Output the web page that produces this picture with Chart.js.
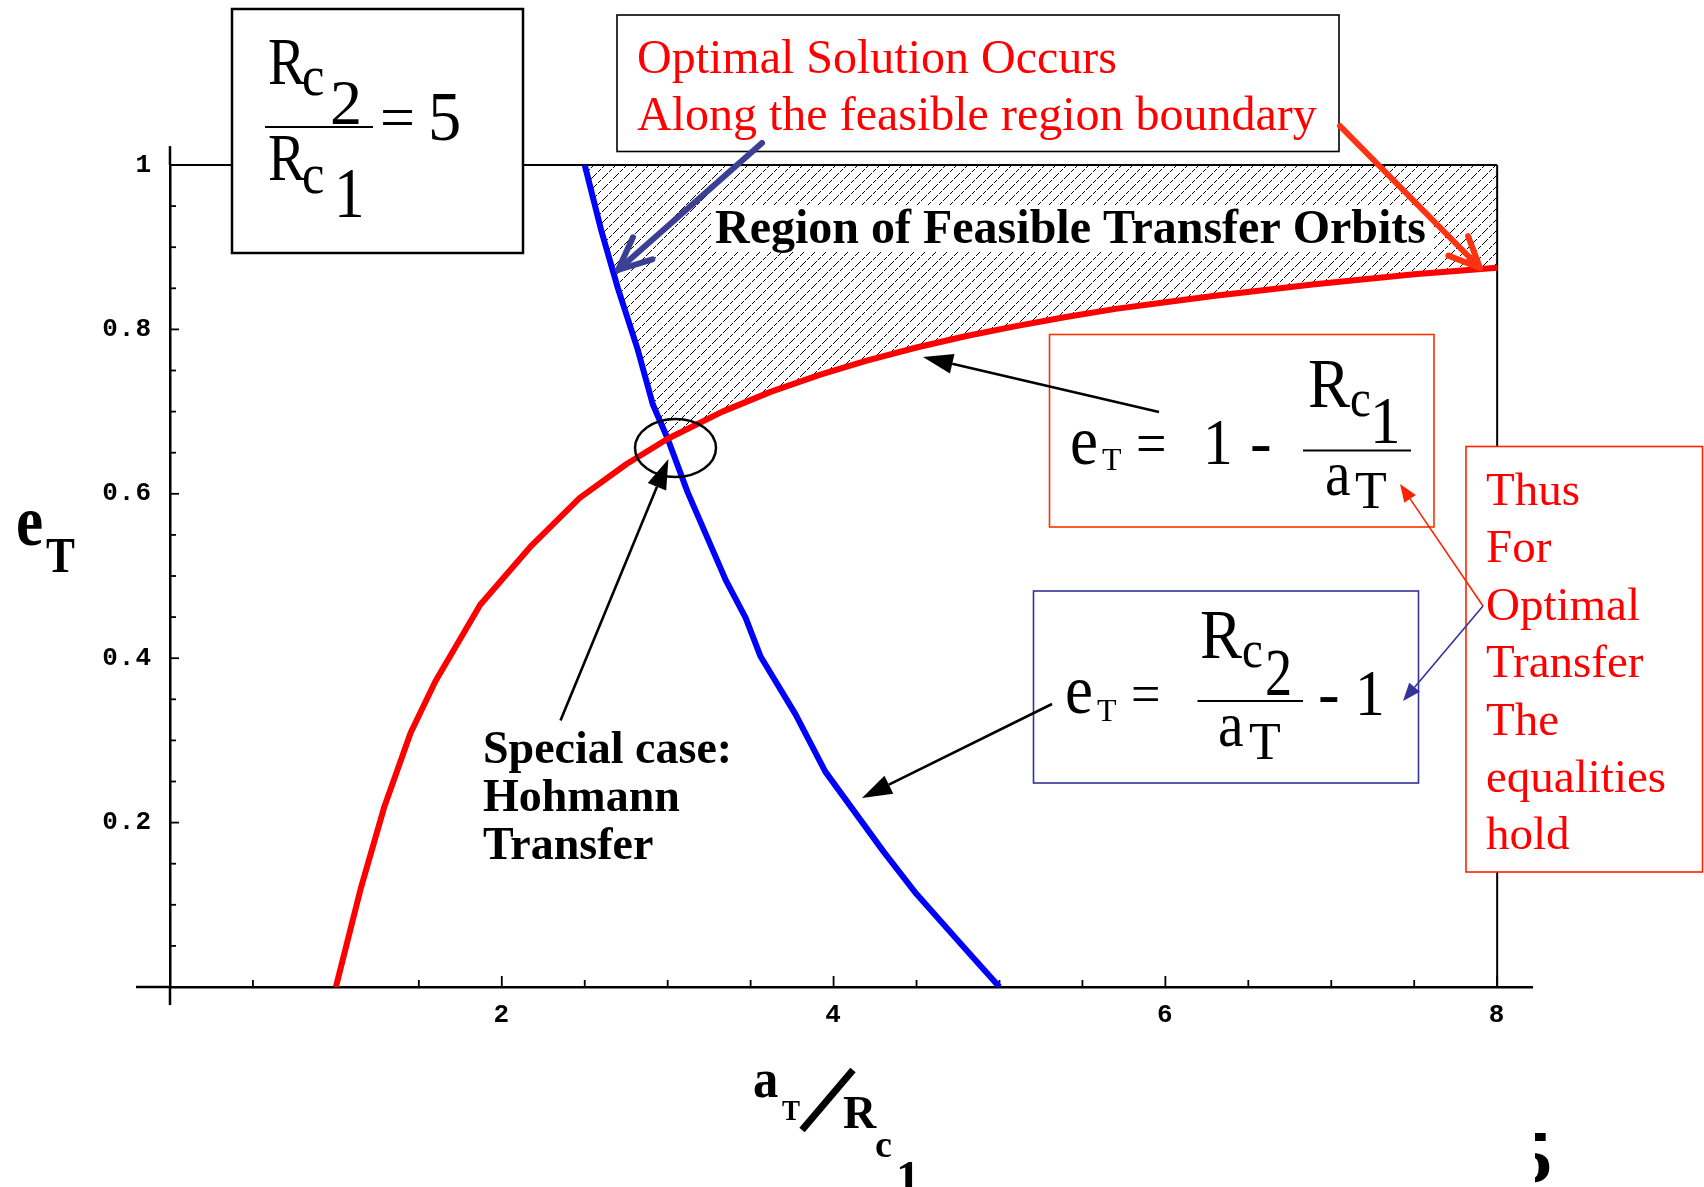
<!DOCTYPE html>
<html>
<head>
<meta charset="utf-8">
<title>Region of feasible transfer orbits</title>
<script src="https://cdn.jsdelivr.net/npm/chart.js"></script>
<style>
  html, body { margin: 0; padding: 0; background: #fff; }
  canvas { display: block; }
</style>
</head>
<body>
<canvas id="orbitChart" width="1704" height="1187"></canvas>
<script>
// e_T = 1 - Rc1/aT  (red curve)
const redA = [1.0, 1.15, 1.29, 1.45, 1.6, 1.87, 2.17, 2.47, 2.75, 3.0, 3.33, 3.62, 3.92, 4.2, 4.5, 4.8, 5.1, 5.4, 5.7, 6.0, 6.3, 6.6, 6.9, 7.2, 7.5, 7.75, 8.0];
const redE = [0.0, 0.12, 0.218, 0.309, 0.372, 0.465, 0.535, 0.595, 0.636, 0.667, 0.70, 0.724, 0.745, 0.762, 0.778, 0.792, 0.804, 0.815, 0.825, 0.833, 0.841, 0.848, 0.855, 0.861, 0.867, 0.871, 0.875];

// e_T = Rc2/aT - 1  (blue curve)
const blueA = [2.5, 2.6, 2.7, 2.82, 2.91, 3.0, 3.12, 3.35, 3.47, 3.56, 3.77, 3.95, 4.3, 4.5, 4.8, 5.0];
const blueE = [1.0, 0.92, 0.85, 0.775, 0.709, 0.667, 0.602, 0.495, 0.449, 0.402, 0.332, 0.262, 0.165, 0.113, 0.045, 0.0];

const xTickValues = [2, 4, 6, 8];
const xTickLabels = ['2', '4', '6', '8'];
const yTickValues = [0.2, 0.4, 0.6, 0.8, 1];
const yTickLabels = ['0.2', '0.4', '0.6', '0.8', '1'];

const crossA = 3.0; // where the two curves meet (Hohmann)

const toPoints = (xs, ys) => xs.map((x, i) => ({ x: x, y: ys[i] }));
const redPts = toPoints(redA, redE);
const bluePts = toPoints(blueA, blueE);
// lower edge of the feasible region: blue down to the crossing, then red
const edgePts = bluePts.filter(p => p.x <= crossA).concat(redPts.filter(p => p.x > crossA));

function labelFor(values, labels, v) {
  const i = values.findIndex(t => Math.abs(t - v) < 1e-6);
  return i < 0 ? '' : labels[i];
}

const canvas = document.getElementById('orbitChart');

// crisp one-pixel broken diagonals, like the old bitmap fill
function makeHatch() {
  const n = 11;
  const tile = document.createElement('canvas');
  tile.width = n;
  tile.height = n;
  const g = tile.getContext('2d');
  g.fillStyle = '#000';
  for (let i = 0; i < n; i++) {
    if (i % 4 === 3) continue;
    g.fillRect(i, n - 1 - i, 1, 1);
  }
  return canvas.getContext('2d').createPattern(tile, 'repeat');
}

// ---- drawing helpers for the annotations ----
function text(ctx, s, x, y, font, color, hs) {
  ctx.save();
  ctx.font = font;
  ctx.fillStyle = color || '#000';
  ctx.textAlign = 'left';
  ctx.textBaseline = 'alphabetic';
  ctx.translate(x, y);
  ctx.scale(hs || 1, 1);
  ctx.fillText(s, 0, 0);
  ctx.restore();
}

function seg(ctx, x1, y1, x2, y2) {
  ctx.beginPath();
  ctx.moveTo(x1, y1);
  ctx.lineTo(x2, y2);
  ctx.stroke();
}

function box(ctx, x, y, w, h, color, lw, fill) {
  ctx.save();
  if (fill) {
    ctx.fillStyle = fill;
    ctx.fillRect(x, y, w, h);
  }
  ctx.strokeStyle = color;
  ctx.lineWidth = lw;
  ctx.strokeRect(x, y, w, h);
  ctx.restore();
}

// arrow with a solid triangular head
function solidArrow(ctx, x1, y1, x2, y2, color, lw, len, half) {
  const a = Math.atan2(y2 - y1, x2 - x1);
  const bx = x2 - len * Math.cos(a), by = y2 - len * Math.sin(a);
  ctx.save();
  ctx.strokeStyle = color;
  ctx.fillStyle = color;
  ctx.lineWidth = lw;
  seg(ctx, x1, y1, bx, by);
  ctx.beginPath();
  ctx.moveTo(x2, y2);
  ctx.lineTo(bx + half * Math.sin(a), by - half * Math.cos(a));
  ctx.lineTo(bx - half * Math.sin(a), by + half * Math.cos(a));
  ctx.closePath();
  ctx.fill();
  ctx.restore();
}

// thick arrow with an open "V" head
function openArrow(ctx, x1, y1, x2, y2, color, lw, len, spread) {
  const back = Math.atan2(y1 - y2, x1 - x2);
  ctx.save();
  ctx.strokeStyle = color;
  ctx.lineWidth = lw;
  ctx.lineCap = 'round';
  ctx.lineJoin = 'round';
  seg(ctx, x1, y1, x2, y2);
  ctx.beginPath();
  ctx.moveTo(x2 + len * Math.cos(back + spread), y2 + len * Math.sin(back + spread));
  ctx.lineTo(x2, y2);
  ctx.lineTo(x2 + len * Math.cos(back - spread), y2 + len * Math.sin(back - spread));
  ctx.stroke();
  ctx.restore();
}

const SERIF = '"Liberation Serif", "Times New Roman", serif';
const serif = (px, bold) => (bold ? 'bold ' : '') + px + 'px ' + SERIF;

// ---- axis decoration: inward ticks, axis stubs, frame ----
const axisDecor = {
  id: 'axisDecor',
  beforeDraw(chart) {
    chart.ctx.letterSpacing = '1px';
  },
  beforeDatasetsDraw(chart) {
    const { ctx, scales: { x, y } } = chart;
    ctx.letterSpacing = '0px';
    const x0 = x.getPixelForValue(0), x8 = x.getPixelForValue(8);
    const y0 = y.getPixelForValue(0), y1 = y.getPixelForValue(1);
    ctx.save();
    ctx.strokeStyle = '#000';
    ctx.lineWidth = 2.5;
    seg(ctx, x.getPixelForValue(-0.205), y0, x0, y0);
    seg(ctx, x0, y.getPixelForValue(-0.022), x0, y0);
    seg(ctx, x0, y1, x0, y.getPixelForValue(1.023));
    ctx.lineWidth = 2;
    seg(ctx, x0, y1, x8, y1);
    seg(ctx, x8, y1, x8, y0);
    ctx.lineWidth = 1.8;
    x.ticks.forEach(t => {
      if (t.value <= 0) return;
      const px = x.getPixelForValue(t.value);
      const len = labelFor(xTickValues, xTickLabels, t.value) ? 11 : 7;
      seg(ctx, px, y0, px, y0 - len);
    });
    y.ticks.forEach(t => {
      if (t.value <= 0) return;
      const py = y.getPixelForValue(t.value);
      const len = labelFor(yTickValues, yTickLabels, t.value) ? 9 : 6;
      seg(ctx, x0, py, x0 + len, py);
    });
    ctx.restore();
  }
};

// ---- slide annotations ----
const notes = {
  id: 'notes',
  afterDraw(chart) {
    const ctx = chart.ctx;
    ctx.save();

    // label inside the hatched region
    ctx.fillStyle = '#fff';
    ctx.fillRect(711, 206, 722, 46);
    text(ctx, 'Region of Feasible Transfer Orbits', 715, 243, serif(48, true), '#000');

    // Rc2 / Rc1 = 5
    box(ctx, 232, 9, 291, 244, '#000', 2.5, '#fff');
    text(ctx, 'R', 268, 84, serif(68), '#000', 0.82);
    text(ctx, 'c', 302, 95, serif(56), '#000', 0.9);
    text(ctx, '2', 330, 124, serif(64), '#000');
    ctx.strokeStyle = '#000';
    ctx.lineWidth = 2;
    seg(ctx, 265, 127, 373, 127);
    text(ctx, '=', 380, 138, serif(62), '#000');
    text(ctx, '5', 428, 140, serif(70), '#000', 0.95);
    text(ctx, 'R', 268, 180, serif(68), '#000', 0.82);
    text(ctx, 'c', 302, 193, serif(56), '#000', 0.9);
    text(ctx, '1', 334, 217, serif(72), '#000', 0.85);

    // "Optimal Solution Occurs" box
    box(ctx, 617, 15, 722, 136.5, '#000', 1.6, '#fff');
    text(ctx, 'Optimal Solution Occurs', 637, 73, serif(48), '#ff0000');
    text(ctx, 'Along the feasible region boundary', 637, 130, serif(48), '#ff0000');

    // e_T = 1 - Rc1/aT
    box(ctx, 1049.5, 334.5, 384.5, 192.5, '#ff3300', 1.6);
    text(ctx, 'e', 1070, 464, serif(70), '#000', 0.9);
    text(ctx, 'T', 1102, 470, serif(32), '#000');
    text(ctx, '=', 1136, 463, serif(60), '#000', 0.9);
    text(ctx, '1', 1203, 464, serif(66), '#000', 0.9);
    text(ctx, '-', 1250, 464, serif(65), '#000');
    text(ctx, 'R', 1308, 407, serif(70), '#000', 0.9);
    text(ctx, 'c', 1350, 416, serif(52), '#000', 0.9);
    text(ctx, '1', 1370, 443, serif(68), '#000', 0.9);
    ctx.strokeStyle = '#000';
    ctx.lineWidth = 2;
    seg(ctx, 1303, 450.5, 1411, 450.5);
    text(ctx, 'a', 1325, 495, serif(64), '#000', 0.9);
    text(ctx, 'T', 1355, 508, serif(52), '#000');

    // e_T = Rc2/aT - 1
    box(ctx, 1033.5, 591, 385, 192, '#333399', 1.6);
    text(ctx, 'e', 1065, 713, serif(70), '#000', 0.9);
    text(ctx, 'T', 1097, 721, serif(32), '#000');
    text(ctx, '=', 1131, 713, serif(58), '#000', 0.9);
    text(ctx, 'R', 1200, 658, serif(70), '#000', 0.9);
    text(ctx, 'c', 1242, 667, serif(52), '#000', 0.9);
    text(ctx, '2', 1265, 695, serif(68), '#000', 0.8);
    ctx.strokeStyle = '#000';
    ctx.lineWidth = 2;
    seg(ctx, 1197.5, 701, 1303, 701);
    text(ctx, 'a', 1218, 746, serif(64), '#000', 0.9);
    text(ctx, 'T', 1249, 759, serif(52), '#000');
    text(ctx, '-', 1318, 715, serif(65), '#000');
    text(ctx, '1', 1355, 715, serif(66), '#000', 0.9);

    // "Thus ... hold" box
    box(ctx, 1466, 446.5, 236.5, 425.5, '#ff2200', 1.6, '#fff');
    ['Thus', 'For', 'Optimal', 'Transfer', 'The', 'equalities', 'hold'].forEach((w, i) => {
      text(ctx, w, 1486, 505 + i * 57.4, serif(47), '#ff0000');
    });

    // Hohmann note
    text(ctx, 'Special case:', 483, 763, serif(46, true), '#000');
    text(ctx, 'Hohmann', 483, 811, serif(46, true), '#000');
    text(ctx, 'Transfer', 483, 859, serif(46, true), '#000');

    // ellipse round the crossing
    ctx.strokeStyle = '#000';
    ctx.lineWidth = 2.5;
    ctx.beginPath();
    ctx.ellipse(675.5, 448, 40.5, 29, 0, 0, Math.PI * 2);
    ctx.stroke();

    // arrows
    solidArrow(ctx, 560.5, 720.5, 668.4, 459, '#000', 2.6, 30, 10);
    solidArrow(ctx, 1159, 412, 923, 357, '#000', 2.6, 30, 10);
    solidArrow(ctx, 1052, 704, 862, 798, '#000', 2.6, 30, 10);
    openArrow(ctx, 762, 143, 618, 270, '#3c4095', 6, 36, 0.42);
    openArrow(ctx, 1340, 126, 1480, 268, '#ff3311', 6, 34, 0.42);
    solidArrow(ctx, 1483, 606, 1400, 484, '#ff2200', 1.6, 18, 7);
    solidArrow(ctx, 1483, 606, 1403, 701, '#333399', 1.6, 18, 7);

    // axis titles
    text(ctx, 'e', 16, 545, serif(72, true), '#000', 0.85);
    text(ctx, 'T', 46, 572, serif(51, true), '#000', 0.85);

    text(ctx, 'a', 753, 1097, serif(55, true), '#000', 0.92);
    text(ctx, 'T', 782, 1120, serif(30, true), '#000', 0.9);
    ctx.strokeStyle = '#000';
    ctx.lineWidth = 7;
    seg(ctx, 802, 1130, 853, 1070);
    text(ctx, 'R', 843, 1128, serif(46, true), '#000');
    text(ctx, 'c', 875, 1157, serif(38, true), '#000');
    text(ctx, '1', 896, 1194, serif(48, true), '#000');

    // clipped slide number at the lower right
    ctx.save();
    ctx.beginPath();
    ctx.rect(1535, 1100, 60, 87);
    ctx.clip();
    ctx.font = serif(74, true);
    ctx.fillStyle = '#000';
    ctx.textAlign = 'right';
    ctx.fillText('5', 1552, 1182);
    ctx.restore();

    ctx.restore();
  }
};

const tickFont = { family: '"Liberation Mono", "Courier New", monospace', weight: 'bold', size: 26 };

new Chart(canvas, {
  type: 'line',
  data: {
    datasets: [
      {
        label: 'feasible region',
        data: edgePts,
        fill: 'end',
        backgroundColor: makeHatch(),
        borderWidth: 0,
        pointRadius: 0,
        order: 3
      },
      {
        label: 'e = 1 - Rc1/aT',
        data: redPts,
        borderColor: '#ff0000',
        borderWidth: 6,
        pointRadius: 0,
        fill: false,
        order: 1
      },
      {
        label: 'e = Rc2/aT - 1',
        data: bluePts,
        borderColor: '#0000ff',
        borderWidth: 6,
        pointRadius: 0,
        fill: false,
        order: 2
      }
    ]
  },
  options: {
    responsive: false,
    animation: false,
    devicePixelRatio: 1,
    layout: { padding: { top: 165, right: 172, left: 0, bottom: 0 } },
    elements: { line: { tension: 0, borderJoinStyle: 'round' } },
    plugins: {
      legend: { display: false },
      tooltip: { enabled: false }
    },
    scales: {
      x: {
        type: 'linear',
        position: 'bottom',
        min: 0,
        max: 8.21,
        afterFit: s => { s.height = 200; },
        grid: { display: true, drawOnChartArea: false, drawTicks: false, color: 'rgba(0,0,0,0)' },
        border: { display: true, color: '#000', width: 2.5 },
        ticks: {
          stepSize: 0.5,
          includeBounds: false,
          autoSkip: false,
          maxRotation: 0,
          padding: 13,
          color: '#000',
          font: tickFont,
          callback: v => labelFor(xTickValues, xTickLabels, v)
        }
      },
      y: {
        type: 'linear',
        position: 'left',
        min: 0,
        max: 1,
        afterFit: s => { s.width = 170; },
        grid: { display: true, drawOnChartArea: false, drawTicks: false, color: 'rgba(0,0,0,0)' },
        border: { display: true, color: '#000', width: 2.5 },
        ticks: {
          stepSize: 0.05,
          includeBounds: false,
          autoSkip: false,
          padding: 18,
          color: '#000',
          font: tickFont,
          callback: v => labelFor(yTickValues, yTickLabels, v)
        }
      }
    }
  },
  plugins: [axisDecor, notes]
});
</script>
</body>
</html>
